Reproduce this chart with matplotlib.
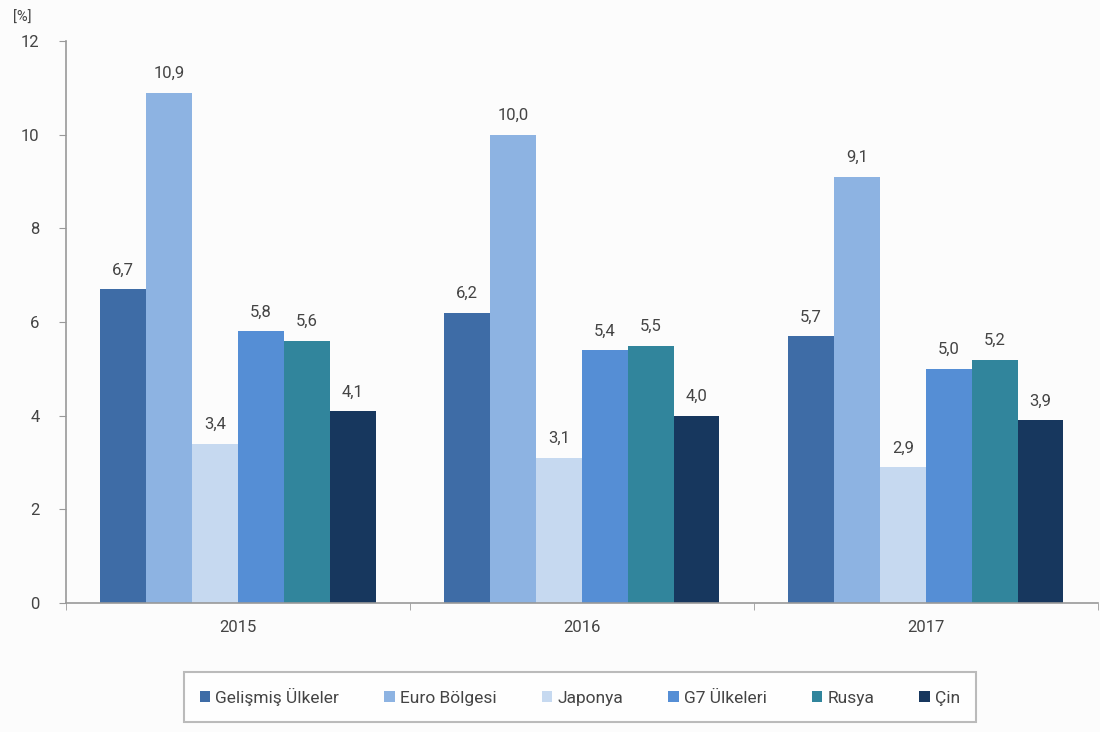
import matplotlib.pyplot as plt
import numpy as np

plt.rcParams['font.family'] = ['Roboto', 'DejaVu Sans']

years = ['2015', '2016', '2017']
series = ['Gelişmiş Ülkeler', 'Euro Bölgesi', 'Japonya', 'G7 Ülkeleri', 'Rusya', 'Çin']
gelismis = [6.7, 6.2, 5.7]
euro = [10.9, 10.0, 9.1]
japonya = [3.4, 3.1, 2.9]
g7 = [5.8, 5.4, 5.0]
rusya = [5.6, 5.5, 5.2]
cin = [4.1, 4.0, 3.9]
values = [gelismis, euro, japonya, g7, rusya, cin]
colors = ['#3e6ca6', '#8db3e2', '#c6d9f0', '#558ed5', '#31859c', '#17375e']

txt = '#444444'
bg = '#fcfcfc'

fig = plt.figure(figsize=(11, 7.32), dpi=100, facecolor=bg)
ax = fig.add_axes([0.06, 0.176, 0.938, 0.768], facecolor=bg)

x = np.arange(len(years))
w = 0.8 / len(series)
for i, (name, vals, c) in enumerate(zip(series, values, colors)):
    pos = x - 0.4 + w * (i + 0.5)
    ax.bar(pos, vals, width=w, color=c, label=name)
    for px, v in zip(pos, vals):
        ax.text(px, v + 0.25, f'{v:.1f}'.replace('.', ','), ha='center', va='bottom',
                fontsize=12, color=txt)

ax.set_xlim(-0.5, len(years) - 0.5)
ax.set_ylim(0, 12)
ax.set_yticks(range(0, 13, 2))
ax.set_xticks(x)
ax.set_xticklabels(years)
ax.set_xticks(np.arange(-0.5, len(years)), minor=True)
ax.tick_params(axis='x', which='major', length=0, pad=12, labelsize=12, labelcolor=txt)
ax.tick_params(axis='x', which='minor', length=5, color='#999999')
ax.tick_params(axis='y', length=5, color='#999999', labelsize=12, labelcolor=txt, pad=14)
for s in ['top', 'right']:
    ax.spines[s].set_visible(False)
for s in ['left', 'bottom']:
    ax.spines[s].set_color('#999999')
    ax.spines[s].set_linewidth(1.2)

fig.text(0.012, 0.975, '[%]', fontsize=10.5, color=txt, ha='left', va='center')

leg = ax.legend(loc='center', bbox_to_anchor=(0.498, -0.167), ncol=6, frameon=True,
                fancybox=False, edgecolor='#aaaaaa', fontsize=12.5, handlelength=0.6,
                handleheight=0.6, handletextpad=0.3, columnspacing=2.6,
                borderpad=0.9, labelcolor=txt)
leg.get_frame().set_linewidth(1.5)

fig.savefig('out.png', dpi=100, facecolor=bg)
